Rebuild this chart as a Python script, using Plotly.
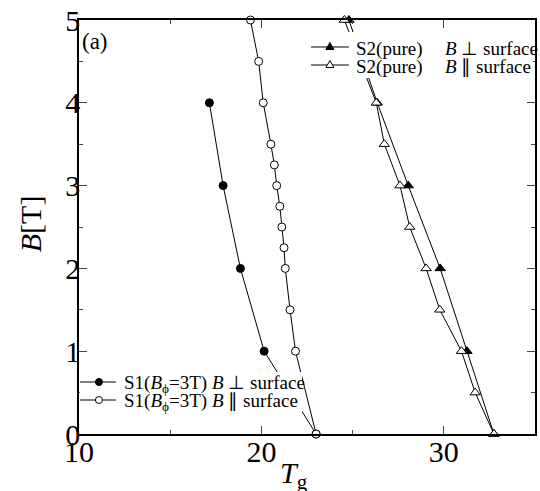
import plotly.graph_objects as go

# S1 (B_phi = 3T), B perpendicular to surface
s1_perp_T = [23.0, 20.15, 18.85, 17.9, 17.15]
s1_perp_B = [0, 1, 2, 3, 4]
# S1 (B_phi = 3T), B parallel to surface
s1_par_T = [23.0, 21.87, 21.57, 21.31, 21.24, 21.12, 21.01, 20.84, 20.71, 20.52, 20.1, 19.85, 19.4]
s1_par_B = [0, 1, 1.5, 2, 2.25, 2.5, 2.75, 3, 3.25, 3.5, 4, 4.5, 5]
# S2 (pure), B perpendicular
s2_perp_T = [32.75, 31.27, 29.8, 28.05, 26.35, 24.8]
s2_perp_B = [0, 1, 2, 3, 4, 5]
# S2 (pure), B parallel
s2_par_T = [32.75, 31.72, 30.97, 29.78, 29.03, 28.13, 27.6, 26.74, 26.3, 24.55]
s2_par_B = [0, 0.5, 1, 1.5, 2, 2.5, 3, 3.5, 4, 5]

x_ticks = [10, 20, 30]
y_ticks = [0, 1, 2, 3, 4, 5]

s1_label = "S1(<i>B</i><sub>ϕ</sub>=3T) <i>B</i> "
s2_label = "S2(pure)"
perp_txt = "<i>B</i> ⊥ surface"
par_txt = "<i>B</i> ∥ surface"

FONT = "Liberation Serif"
W, H = 540, 491
# plot box in pixels
Ls, Rs, Ts, Bs = 79, 537, 20, 434

def px(xs):
    return (xs - Ls) / (Rs - Ls)

def py(ys):
    return (Bs - ys) / (Bs - Ts)

fig = go.Figure()

def add(x, y, name, symbol, fill, size):
    fig.add_trace(go.Scatter(
        x=x, y=y, name=name, mode="lines+markers",
        line=dict(color="black", width=1),
        marker=dict(symbol=symbol, size=size, color=fill,
                    line=dict(color="black", width=1)),
        cliponaxis=False, showlegend=False,
    ))

add(s1_perp_T, s1_perp_B, s1_label + "⊥ surface", "circle", "black", 8)
add(s1_par_T, s1_par_B, s1_label + "∥ surface", "circle", "white", 8)
add(s2_perp_T, s2_perp_B, s2_label + " " + perp_txt, "triangle-up", "black", 9)
add(s2_par_T, s2_par_B, s2_label + " " + par_txt, "triangle-up", "white", 9)

axis_common = dict(
    showgrid=False, zeroline=False, showline=True, linecolor="black",
    linewidth=1.5, mirror="ticks", ticks="inside", ticklen=8,
    tickcolor="#444", tickwidth=1,
    tickfont=dict(family=FONT, size=30, color="black"),
)

shapes = []
annotations = []

# legend backgrounds (white boxes hiding lines behind the legend text)
shapes.append(dict(type="rect", xref="paper", yref="paper", layer="above",
                   x0=px(80), x1=px(303), y0=py(414), y1=py(372),
                   fillcolor="white", line=dict(width=0)))
shapes.append(dict(type="rect", xref="paper", yref="paper", layer="above",
                   x0=px(305), x1=px(535), y0=py(78), y1=py(32),
                   fillcolor="white", line=dict(width=0)))

def key(xl, xr, xm, ym, kind, fill):
    shapes.append(dict(type="line", xref="paper", yref="paper", layer="above",
                       x0=px(xl), x1=px(xr), y0=py(ym), y1=py(ym),
                       line=dict(color="black", width=1)))
    if kind == "circle":
        shapes.append(dict(type="circle", xref="paper", yref="paper", layer="above",
                           xsizemode="pixel", ysizemode="pixel",
                           xanchor=px(xm), yanchor=py(ym),
                           x0=-3.5, x1=3.5, y0=-3.5, y1=3.5,
                           fillcolor=fill, line=dict(color="black", width=1)))
    else:
        shapes.append(dict(type="path", xref="paper", yref="paper", layer="above",
                           xsizemode="pixel", ysizemode="pixel",
                           xanchor=px(xm), yanchor=py(ym),
                           path="M -4,-2.5 L 4,-2.5 L 0,4.5 Z",
                           fillcolor=fill, line=dict(color="black", width=1)))

def text(x, y, s, size=19):
    annotations.append(dict(x=px(x), y=py(y), xref="paper", yref="paper",
                            xanchor="left", yanchor="middle", text=s,
                            showarrow=False, font=dict(family=FONT, size=size,
                                                        color="black")))

# S1 legend (bottom-left)
key(80, 116, 99, 382, "circle", "black")
key(80, 116, 99, 400, "circle", "white")
text(122, 384, s1_label + "⊥ surface")
text(122, 402, s1_label + "∥ surface")

# S2 legend (top-right)
key(312, 350, 331, 47, "tri", "black")
key(312, 350, 331, 65, "tri", "white")
text(355, 49, s2_label)
text(355, 67, s2_label)
text(445, 49, perp_txt)
text(445, 67, par_txt)

# panel label
annotations.append(dict(x=px(80), y=py(41), xref="paper", yref="paper",
                        xanchor="left", yanchor="middle", text="(a)",
                        showarrow=False, font=dict(family=FONT, size=23, color="black")))

# axis titles
annotations.append(dict(x=px(279), y=py(475), xref="paper", yref="paper",
                        xanchor="left", yanchor="middle",
                        text="<i>T</i><sub>g</sub>", showarrow=False,
                        font=dict(family=FONT, size=30, color="black")))
annotations.append(dict(x=px(30), y=py(224), xref="paper", yref="paper",
                        xanchor="center", yanchor="middle", textangle=-90,
                        text="<i>B</i>[T]", showarrow=False,
                        font=dict(family=FONT, size=30, color="black")))

fig.update_layout(
    width=W, height=H,
    margin=dict(l=Ls, r=W - Rs, t=Ts, b=H - Bs, pad=0),
    paper_bgcolor="white", plot_bgcolor="white",
    font=dict(family=FONT, color="black"),
    xaxis=dict(range=[10, 35], tickvals=x_ticks, ticklabelstandoff=-10,
               minor=dict(tickvals=[15, 25], ticks="inside", ticklen=4,
                          tickcolor="#444"),
               **axis_common),
    yaxis=dict(range=[0, 5], tickvals=y_ticks, ticklabelstandoff=-9,
               minor=dict(dtick=0.5, ticks="inside", ticklen=4, tickcolor="#444"),
               **axis_common),
    shapes=shapes,
    annotations=annotations,
    showlegend=False,
)

fig.write_html(
    "out.html",
    config={"displayModeBar": False},
    post_script="document.body.style.margin='0';document.body.style.overflow='hidden';",
)
